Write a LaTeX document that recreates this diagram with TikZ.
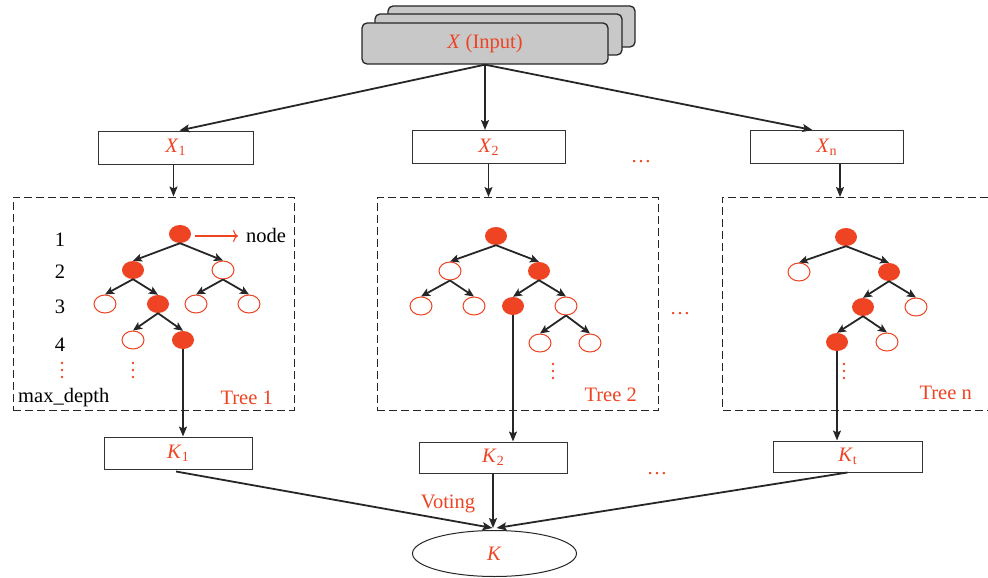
\documentclass[tikz,border=0pt]{standalone}
\usepackage{fontspec}
\setmainfont{Liberation Serif}
\usetikzlibrary{arrows.meta,shapes.geometric,calc}
\definecolor{tred}{RGB}{238,68,35}
\definecolor{inputgray}{RGB}{200,200,200}
\newcommand{\lsub}[1]{\raisebox{-0.35ex}{\fontsize{14}{15}\selectfont #1}}
\begin{document}
\begin{tikzpicture}[x=1pt,y=-1pt, font=\fontsize{20.5}{24}\selectfont,
  gbox/.style={draw=black!85, line width=1.3pt, fill=inputgray, rounded corners=5pt, minimum width=246pt, minimum height=41pt, inner sep=0pt, text=tred},
  box/.style={draw=black!80, line width=1pt, fill=white, minimum width=154pt, minimum height=33pt, inner sep=0pt, text=tred},
  kbox/.style={draw=black!80, line width=1pt, fill=white, minimum width=148pt, minimum height=31pt, inner sep=0pt, text=tred},
  conn/.style={line width=1.8pt, draw=black!85, -{Stealth[length=10pt,width=8pt,inset=2pt]}},
  tarr/.style={line width=1.8pt, draw=black!85, -{Stealth[length=9pt,width=8pt,inset=2pt]}},
  fn/.style={ellipse, fill=tred, minimum width=22pt, minimum height=18pt, inner sep=0pt},
  en/.style={ellipse, draw=tred, line width=1pt, fill=white, minimum width=22pt, minimum height=18pt, inner sep=0pt},
  dbox/.style={draw=black!85, line width=1pt, dash pattern=on 8pt off 4pt, minimum width=281pt, minimum height=213pt, inner sep=0pt},
  rtxt/.style={text=tred, inner sep=0pt},
  btxt/.style={text=black, inner sep=0pt}
]
\useasboundingbox (0,0) rectangle (988,578);

% input stack
\node[gbox, minimum width=247pt] (in3) at (511.5,26.5) {};
\node[gbox, minimum width=247pt] (in2) at (498.5,34.5) {};
\node[gbox] (in1) at (485,43.5) {\textit{X} (Input)};

% X boxes
\node[box, minimum width=155pt] (x1) at (175.5,147.5) {\textit{X}\lsub{1}};
\node[box, minimum width=153pt] (x2) at (488.5,147) {\textit{X}\lsub{2}};
\node[box, minimum width=153pt] (xn) at (826.5,147) {\textit{X}\lsub{n}};
\node[rtxt] (dots1) at (641,162) {\ldots};

\draw[conn] (in1.south) -- ($(x1.north)+(4,0)$);
\draw[conn] (in1.south) -- (in1.south |- x2.north);
\draw[conn] (in1.south) -- ($(xn.north)+(-14,0)$);

% dashed tree boxes
\node[dbox] (t1) at (153.5,303.5) {};
\node[dbox] (t2) at (517.5,304) {};
\draw[dbox] (988,197) -- (722,197) -- (722,410) -- (988,410);
\coordinate (tntop) at (840,197);
\node[rtxt] (dots2) at (680,314) {\ldots};

\draw[conn] ($(x1.south)+(-2,0)$) -- ($(x1.south |- t1.north)+(-2,0)$);
\draw[conn] (x2.south) -- (x2.south |- t2.north);
\draw[conn] (xn.south -| tntop) -- (tntop);

% Tree 1
\node[fn] (r1) at (180,234) {};
\node[fn] (a1) at (133,270) {};
\node[en] (b1) at (223,270) {};
\node[en] (c1) at (105,304) {};
\node[fn] (d1) at (158,304) {};
\node[en] (e1) at (196,304) {};
\node[en] (f1) at (249,304) {};
\node[en] (g1) at (133,340) {};
\node[fn] (h1) at (183,340) {};
\foreach \p/\c in {r1/a1,r1/b1,a1/c1,a1/d1,b1/e1,b1/f1,d1/g1,d1/h1}
  \draw[tarr] (\p.south) -- (\c.north);
\node[btxt] (l1) at (60,240) {1};
\node[btxt] (l2) at (60,272) {2};
\node[btxt] (l3) at (60,307) {3};
\node[btxt] (l4) at (60,345) {4};
\foreach \x/\y in {62/363,133/363,553/364,844/364}
  \foreach \k in {0,1,2}
    \fill[tred] (\x,\y+7*\k) circle (1.4pt);
\node[btxt, anchor=west] (md) at (18,398) {max\_depth};
\node[rtxt, anchor=east] (tl1) at (273,398) {Tree 1};
\node[btxt, anchor=west] (nodelbl) at (246,235) {node};
\coordinate (na) at (195,236);
\coordinate (nb) at (238,236);
\draw[tred, line width=1.1pt, -{To[length=5pt,width=12pt]}] (na) -- (nb);

% Tree 2
\node[fn] (r2) at (496,236) {};
\node[en] (a2) at (450,271) {};
\node[fn] (b2) at (539,271) {};
\node[en] (c2) at (421,306) {};
\node[en] (d2) at (474,306) {};
\node[fn] (e2) at (513,306) {};
\node[en] (f2) at (566,306) {};
\node[en] (g2) at (540,343) {};
\node[en] (h2) at (590,343) {};
\foreach \p/\c in {r2/a2,r2/b2,a2/c2,a2/d2,b2/e2,b2/f2,f2/g2,f2/h2}
  \draw[tarr] (\p.south) -- (\c.north);
\node[rtxt, anchor=east] (tl2) at (637,395) {Tree 2};

% Tree n
\node[fn] (r3) at (846,237) {};
\node[en] (a3) at (799,272) {};
\node[fn] (b3) at (889,272) {};
\node[fn] (c3) at (863,307) {};
\node[en] (d3) at (916,307) {};
\node[fn] (e3) at (837,342) {};
\node[en] (f3) at (887,342) {};
\foreach \p/\c in {r3/a3,r3/b3,b3/c3,b3/d3,c3/e3,c3/f3}
  \draw[tarr] (\p.south) -- (\c.north);
\node[rtxt, anchor=east] (tln) at (972,393) {Tree n};

% K boxes
\node[kbox, minimum height=32pt] (k1) at (178,453) {\textit{K}\lsub{1}};
\node[kbox] (k2) at (493,457.5) {\textit{K}\lsub{2}};
\node[kbox, minimum width=149pt] (kt) at (847.5,456.5) {\textit{K}\lsub{t}};
\node[rtxt] (dots3) at (657,474) {\ldots};

\draw[conn] (h1.south) -- (h1.south |- k1.north);
\draw[conn] (e2.south) -- (e2.south |- k2.north);
\draw[conn] (e3.south) -- (e3.south |- kt.north);

% final
\node[ellipse, draw=black!85, line width=1pt, minimum width=164pt, minimum height=46pt, inner sep=0pt, text=tred] (K) at (494.5,553.5) {\textit{K}};
\draw[conn] ($(k1.south)+(-2,2)$) -- ($(K.north)+(-2,-2)$);
\draw[conn] (k2.south) -- ($(k2.south |- K.north)+(0,-2)$);
\draw[conn] (kt.south) -- ($(K.north)+(2,-2)$);
\node[rtxt] (voting) at (448,504) {Voting};
\end{tikzpicture}
\end{document}
